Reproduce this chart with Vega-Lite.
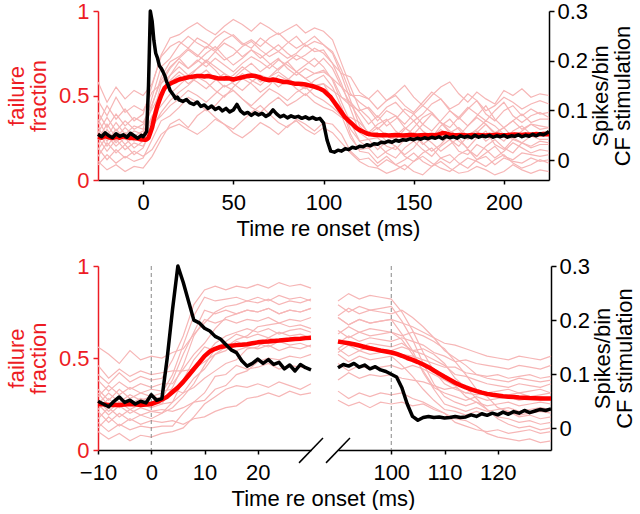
{
"$schema": "https://vega.github.io/schema/vega-lite/v6.json",
"padding": {"left": 5, "top": 0, "right": 0, "bottom": 0},
"config": {"font": "Liberation Sans", "view": {"stroke": null},
  "axis": {"grid": false, "labelFontSize": 22, "titleFontSize": 22, "titleFontWeight": "normal", "labelFont": "Liberation Sans", "titleFont": "Liberation Sans", "domainWidth": 1.5, "tickWidth": 1.5, "labelFlush": false, "labelOverlap": false}},
"datasets": {
"topPink": [
{"t":-25,"a":0.11,"b":0.09,"c":0.19,"d":0.14,"e":0.25,"f":0.18,"g":0.29,"h":0.21,"i":0.31,"j":0.24,"k":0.36,"l":0.28,"m":0.40,"n":0.33,"o":0.47,"p":0.58},
{"t":-20,"a":0.06,"b":0.15,"c":0.12,"d":0.22,"e":0.17,"f":0.26,"g":0.20,"h":0.30,"i":0.23,"j":0.33,"k":0.26,"l":0.37,"m":0.31,"n":0.44,"o":0.38,"p":0.46},
{"t":-15,"a":0.09,"b":0.10,"c":0.18,"d":0.16,"e":0.24,"f":0.20,"g":0.27,"h":0.22,"i":0.30,"j":0.25,"k":0.34,"l":0.29,"m":0.39,"n":0.36,"o":0.49,"p":0.55},
{"t":-10,"a":0.05,"b":0.14,"c":0.13,"d":0.21,"e":0.18,"f":0.25,"g":0.21,"h":0.28,"i":0.24,"j":0.31,"k":0.27,"l":0.35,"m":0.32,"n":0.42,"o":0.40,"p":0.48},
{"t":-5,"a":0.08,"b":0.11,"c":0.17,"d":0.15,"e":0.22,"f":0.19,"g":0.26,"h":0.23,"i":0.29,"j":0.26,"k":0.32,"l":0.30,"m":0.37,"n":0.35,"o":0.44,"p":0.53},
{"t":0,"a":0.07,"b":0.13,"c":0.14,"d":0.19,"e":0.20,"f":0.23,"g":0.23,"h":0.26,"i":0.27,"j":0.29,"k":0.30,"l":0.33,"m":0.34,"n":0.39,"o":0.41,"p":0.50},
{"t":5,"a":0.14,"b":0.24,"c":0.18,"d":0.31,"e":0.30,"f":0.33,"g":0.36,"h":0.38,"i":0.44,"j":0.36,"k":0.49,"l":0.42,"m":0.45,"n":0.56,"o":0.52,"p":0.57},
{"t":10,"a":0.24,"b":0.35,"c":0.27,"d":0.40,"e":0.50,"f":0.38,"g":0.57,"h":0.44,"i":0.61,"j":0.50,"k":0.67,"l":0.52,"m":0.59,"n":0.74,"o":0.57,"p":0.73},
{"t":15,"a":0.33,"b":0.38,"c":0.31,"d":0.47,"e":0.59,"f":0.44,"g":0.66,"h":0.51,"i":0.70,"j":0.62,"k":0.72,"l":0.58,"m":0.67,"n":0.84,"o":0.62,"p":0.79},
{"t":20,"a":0.36,"b":0.43,"c":0.33,"d":0.52,"e":0.64,"f":0.48,"g":0.72,"h":0.56,"i":0.73,"j":0.67,"k":0.80,"l":0.62,"m":0.72,"n":0.86,"o":0.70,"p":0.82},
{"t":25,"a":0.31,"b":0.49,"c":0.30,"d":0.56,"e":0.60,"f":0.53,"g":0.66,"h":0.61,"i":0.78,"j":0.62,"k":0.85,"l":0.57,"m":0.77,"n":0.90,"o":0.66,"p":0.78},
{"t":30,"a":0.38,"b":0.46,"c":0.27,"d":0.61,"e":0.66,"f":0.50,"g":0.70,"h":0.58,"i":0.74,"j":0.66,"k":0.81,"l":0.61,"m":0.73,"n":0.93,"o":0.71,"p":0.84},
{"t":35,"a":0.42,"b":0.41,"c":0.31,"d":0.58,"e":0.70,"f":0.46,"g":0.75,"h":0.54,"i":0.70,"j":0.71,"k":0.78,"l":0.65,"m":0.79,"n":0.89,"o":0.67,"p":0.81},
{"t":40,"a":0.37,"b":0.44,"c":0.36,"d":0.53,"e":0.65,"f":0.51,"g":0.79,"h":0.59,"i":0.76,"j":0.67,"k":0.84,"l":0.60,"m":0.76,"n":0.86,"o":0.72,"p":0.77},
{"t":45,"a":0.33,"b":0.50,"c":0.33,"d":0.49,"e":0.59,"f":0.56,"g":0.73,"h":0.63,"i":0.81,"j":0.63,"k":0.88,"l":0.55,"m":0.71,"n":0.91,"o":0.68,"p":0.83},
{"t":50,"a":0.30,"b":0.53,"c":0.28,"d":0.55,"e":0.62,"f":0.53,"g":0.68,"h":0.57,"i":0.78,"j":0.60,"k":0.85,"l":0.58,"m":0.74,"n":0.95,"o":0.64,"p":0.86},
{"t":55,"a":0.35,"b":0.48,"c":0.25,"d":0.60,"e":0.67,"f":0.48,"g":0.72,"h":0.53,"i":0.73,"j":0.65,"k":0.80,"l":0.63,"m":0.79,"n":0.92,"o":0.69,"p":0.81},
{"t":60,"a":0.40,"b":0.43,"c":0.29,"d":0.57,"e":0.63,"f":0.44,"g":0.77,"h":0.58,"i":0.77,"j":0.69,"k":0.83,"l":0.59,"m":0.82,"n":0.88,"o":0.73,"p":0.78},
{"t":65,"a":0.44,"b":0.40,"c":0.34,"d":0.52,"e":0.58,"f":0.49,"g":0.74,"h":0.62,"i":0.72,"j":0.64,"k":0.79,"l":0.56,"m":0.77,"n":0.93,"o":0.70,"p":0.84},
{"t":70,"a":0.39,"b":0.45,"c":0.31,"d":0.56,"e":0.61,"f":0.54,"g":0.69,"h":0.60,"i":0.76,"j":0.68,"k":0.84,"l":0.61,"m":0.73,"n":0.90,"o":0.66,"p":0.80},
{"t":75,"a":0.34,"b":0.49,"c":0.27,"d":0.62,"e":0.66,"f":0.51,"g":0.65,"h":0.55,"i":0.80,"j":0.72,"k":0.87,"l":0.64,"m":0.76,"n":0.86,"o":0.71,"p":0.76},
{"t":80,"a":0.31,"b":0.44,"c":0.32,"d":0.59,"e":0.70,"f":0.47,"g":0.70,"h":0.59,"i":0.75,"j":0.66,"k":0.82,"l":0.60,"m":0.72,"n":0.89,"o":0.68,"p":0.81},
{"t":85,"a":0.36,"b":0.47,"c":0.35,"d":0.54,"e":0.64,"f":0.52,"g":0.74,"h":0.64,"i":0.71,"j":0.62,"k":0.78,"l":0.57,"m":0.75,"n":0.92,"o":0.64,"p":0.85},
{"t":90,"a":0.33,"b":0.51,"c":0.30,"d":0.50,"e":0.60,"f":0.55,"g":0.71,"h":0.60,"i":0.74,"j":0.66,"k":0.81,"l":0.54,"m":0.80,"n":0.87,"o":0.68,"p":0.79},
{"t":95,"a":0.29,"b":0.46,"c":0.27,"d":0.55,"e":0.63,"f":0.50,"g":0.67,"h":0.56,"i":0.78,"j":0.63,"k":0.85,"l":0.59,"m":0.76,"n":0.90,"o":0.72,"p":0.82},
{"t":100,"a":0.34,"b":0.43,"c":0.31,"d":0.57,"e":0.65,"f":0.47,"g":0.72,"h":0.57,"i":0.75,"j":0.64,"k":0.80,"l":0.62,"m":0.77,"n":0.88,"o":0.67,"p":0.80},
{"t":105,"a":0.33,"b":0.41,"c":0.28,"d":0.48,"e":0.60,"f":0.43,"g":0.66,"h":0.53,"i":0.69,"j":0.60,"k":0.75,"l":0.55,"m":0.69,"n":0.83,"o":0.59,"p":0.76},
{"t":110,"a":0.27,"b":0.37,"c":0.22,"d":0.43,"e":0.49,"f":0.38,"g":0.55,"h":0.49,"i":0.57,"j":0.55,"k":0.62,"l":0.43,"m":0.63,"n":0.69,"o":0.46,"p":0.65},
{"t":115,"a":0.17,"b":0.37,"c":0.16,"d":0.30,"e":0.46,"f":0.25,"g":0.45,"h":0.44,"i":0.42,"j":0.50,"k":0.47,"l":0.27,"m":0.61,"n":0.55,"o":0.34,"p":0.51},
{"t":120,"a":0.12,"b":0.34,"c":0.11,"d":0.23,"e":0.40,"f":0.18,"g":0.36,"h":0.41,"i":0.28,"j":0.50,"k":0.32,"l":0.17,"m":0.52,"n":0.42,"o":0.23,"p":0.46},
{"t":125,"a":0.13,"b":0.28,"c":0.08,"d":0.24,"e":0.33,"f":0.19,"g":0.27,"h":0.43,"i":0.24,"j":0.48,"k":0.26,"l":0.16,"m":0.48,"n":0.37,"o":0.19,"p":0.42},
{"t":130,"a":0.08,"b":0.33,"c":0.07,"d":0.18,"e":0.38,"f":0.13,"g":0.31,"h":0.37,"i":0.25,"j":0.42,"k":0.28,"l":0.10,"m":0.53,"n":0.30,"o":0.21,"p":0.35},
{"t":135,"a":0.12,"b":0.36,"c":0.04,"d":0.23,"e":0.32,"f":0.17,"g":0.26,"h":0.43,"i":0.20,"j":0.47,"k":0.23,"l":0.14,"m":0.47,"n":0.35,"o":0.16,"p":0.41},
{"t":140,"a":0.09,"b":0.29,"c":0.06,"d":0.20,"e":0.36,"f":0.20,"g":0.24,"h":0.46,"i":0.18,"j":0.50,"k":0.26,"l":0.09,"m":0.51,"n":0.38,"o":0.13,"p":0.38},
{"t":145,"a":0.06,"b":0.25,"c":0.09,"d":0.15,"e":0.42,"f":0.14,"g":0.30,"h":0.40,"i":0.24,"j":0.44,"k":0.31,"l":0.12,"m":0.56,"n":0.31,"o":0.19,"p":0.33},
{"t":150,"a":0.11,"b":0.31,"c":0.05,"d":0.19,"e":0.39,"f":0.11,"g":0.35,"h":0.35,"i":0.28,"j":0.40,"k":0.27,"l":0.16,"m":0.49,"n":0.27,"o":0.23,"p":0.39},
{"t":155,"a":0.14,"b":0.37,"c":0.03,"d":0.26,"e":0.33,"f":0.16,"g":0.29,"h":0.39,"i":0.22,"j":0.46,"k":0.21,"l":0.11,"m":0.44,"n":0.33,"o":0.18,"p":0.44},
{"t":160,"a":0.10,"b":0.40,"c":0.08,"d":0.22,"e":0.29,"f":0.19,"g":0.25,"h":0.45,"i":0.17,"j":0.52,"k":0.25,"l":0.08,"m":0.50,"n":0.39,"o":0.14,"p":0.40},
{"t":165,"a":0.07,"b":0.34,"c":0.11,"d":0.17,"e":0.35,"f":0.13,"g":0.32,"h":0.48,"i":0.21,"j":0.48,"k":0.30,"l":0.13,"m":0.55,"n":0.34,"o":0.20,"p":0.34},
{"t":170,"a":0.05,"b":0.28,"c":0.07,"d":0.21,"e":0.41,"f":0.10,"g":0.36,"h":0.41,"i":0.27,"j":0.42,"k":0.24,"l":0.15,"m":0.58,"n":0.29,"o":0.24,"p":0.31},
{"t":175,"a":0.09,"b":0.31,"c":0.04,"d":0.25,"e":0.37,"f":0.15,"g":0.30,"h":0.36,"i":0.23,"j":0.45,"k":0.20,"l":0.10,"m":0.51,"n":0.26,"o":0.17,"p":0.37},
{"t":180,"a":0.13,"b":0.26,"c":0.05,"d":0.18,"e":0.32,"f":0.18,"g":0.24,"h":0.42,"i":0.19,"j":0.51,"k":0.26,"l":0.07,"m":0.46,"n":0.32,"o":0.15,"p":0.43},
{"t":185,"a":0.11,"b":0.30,"c":0.08,"d":0.14,"e":0.38,"f":0.12,"g":0.28,"h":0.47,"i":0.25,"j":0.47,"k":0.29,"l":0.12,"m":0.52,"n":0.37,"o":0.21,"p":0.39},
{"t":190,"a":0.08,"b":0.35,"c":0.06,"d":0.20,"e":0.44,"f":0.16,"g":0.33,"h":0.39,"i":0.29,"j":0.41,"k":0.23,"l":0.14,"m":0.48,"n":0.33,"o":0.18,"p":0.35},
{"t":195,"a":0.12,"b":0.32,"c":0.03,"d":0.24,"e":0.36,"f":0.20,"g":0.27,"h":0.35,"i":0.21,"j":0.44,"k":0.27,"l":0.09,"m":0.45,"n":0.28,"o":0.13,"p":0.41},
{"t":200,"a":0.15,"b":0.27,"c":0.05,"d":0.19,"e":0.31,"f":0.14,"g":0.23,"h":0.41,"i":0.18,"j":0.49,"k":0.31,"l":0.13,"m":0.53,"n":0.31,"o":0.17,"p":0.46},
{"t":205,"a":0.10,"b":0.24,"c":0.09,"d":0.16,"e":0.35,"f":0.12,"g":0.29,"h":0.44,"i":0.24,"j":0.46,"k":0.25,"l":0.11,"m":0.50,"n":0.35,"o":0.22,"p":0.38},
{"t":210,"a":0.07,"b":0.29,"c":0.06,"d":0.22,"e":0.39,"f":0.16,"g":0.32,"h":0.38,"i":0.22,"j":0.42,"k":0.22,"l":0.10,"m":0.54,"n":0.30,"o":0.19,"p":0.34},
{"t":215,"a":0.09,"b":0.33,"c":0.04,"d":0.19,"e":0.34,"f":0.15,"g":0.27,"h":0.42,"i":0.20,"j":0.45,"k":0.26,"l":0.13,"m":0.49,"n":0.33,"o":0.16,"p":0.38},
{"t":220,"a":0.12,"b":0.30,"c":0.06,"d":0.21,"e":0.36,"f":0.14,"g":0.28,"h":0.39,"i":0.23,"j":0.47,"k":0.24,"l":0.11,"m":0.51,"n":0.32,"o":0.18,"p":0.40},
{"t":225,"a":0.10,"b":0.31,"c":0.05,"d":0.21,"e":0.36,"f":0.15,"g":0.29,"h":0.40,"i":0.22,"j":0.45,"k":0.24,"l":0.12,"m":0.50,"n":0.31,"o":0.17,"p":0.37}
],
"topMS": [
{"t":-25,"s":0.052,"v":0.255},{"t":-23,"s":0.047,"v":0.25},{"t":-21,"s":0.055,"v":0.26},{"t":-19,"s":0.049,"v":0.252},{"t":-17,"s":0.045,"v":0.248},{"t":-15,"s":0.053,"v":0.255},{"t":-13,"s":0.048,"v":0.25},{"t":-11,"s":0.051,"v":0.258},{"t":-9,"s":0.046,"v":0.252},{"t":-7,"s":0.054,"v":0.248},{"t":-5,"s":0.049,"v":0.25},{"t":-3,"s":0.044,"v":0.245},{"t":-1,"s":0.05,"v":0.24},
{"t":0,"s":0.047,"v":0.24},{"t":1,"s":0.052,"v":0.238},{"t":2,"s":0.058,"v":0.24},{"t":3,"s":0.15,"v":0.25},{"t":4,"s":0.30,"v":0.28},{"t":5,"s":0.28,"v":0.31},{"t":6,"s":0.24,"v":0.36},{"t":7,"s":0.215,"v":0.40},{"t":8,"s":0.205,"v":0.44},{"t":9,"s":0.19,"v":0.47},{"t":10,"s":0.185,"v":0.50},{"t":11,"s":0.178,"v":0.525},{"t":12,"s":0.17,"v":0.545},{"t":13,"s":0.158,"v":0.555},{"t":14,"s":0.15,"v":0.565},{"t":15,"s":0.14,"v":0.57},{"t":16,"s":0.135,"v":0.575},{"t":17,"s":0.13,"v":0.58},{"t":18,"s":0.124,"v":0.585},{"t":19,"s":0.127,"v":0.59},{"t":20,"s":0.121,"v":0.595},
{"t":22,"s":0.118,"v":0.60},{"t":24,"s":0.122,"v":0.605},{"t":26,"s":0.115,"v":0.61},{"t":28,"s":0.112,"v":0.612},{"t":30,"s":0.117,"v":0.615},{"t":32,"s":0.108,"v":0.615},{"t":34,"s":0.111,"v":0.613},{"t":36,"s":0.104,"v":0.615},{"t":38,"s":0.109,"v":0.61},{"t":40,"s":0.102,"v":0.605},{"t":42,"s":0.106,"v":0.60},{"t":44,"s":0.099,"v":0.60},{"t":46,"s":0.104,"v":0.602},{"t":48,"s":0.097,"v":0.60},{"t":50,"s":0.101,"v":0.595},{"t":52,"s":0.112,"v":0.60},{"t":54,"s":0.099,"v":0.605},{"t":56,"s":0.093,"v":0.61},{"t":58,"s":0.096,"v":0.615},{"t":60,"s":0.09,"v":0.618},{"t":62,"s":0.095,"v":0.615},{"t":64,"s":0.091,"v":0.61},{"t":66,"s":0.094,"v":0.60},{"t":68,"s":0.088,"v":0.595},{"t":70,"s":0.092,"v":0.59},{"t":72,"s":0.101,"v":0.595},{"t":74,"s":0.093,"v":0.59},{"t":76,"s":0.087,"v":0.585},{"t":78,"s":0.09,"v":0.58},{"t":80,"s":0.085,"v":0.58},{"t":82,"s":0.089,"v":0.575},{"t":84,"s":0.086,"v":0.57},{"t":86,"s":0.088,"v":0.57},{"t":88,"s":0.084,"v":0.568},{"t":90,"s":0.087,"v":0.565},{"t":92,"s":0.083,"v":0.56},{"t":94,"s":0.086,"v":0.555},{"t":96,"s":0.082,"v":0.548},{"t":98,"s":0.084,"v":0.54},{"t":100,"s":0.075,"v":0.53},{"t":102,"s":0.04,"v":0.51},{"t":104,"s":0.018,"v":0.49},{"t":106,"s":0.016,"v":0.46},{"t":108,"s":0.02,"v":0.43},{"t":110,"s":0.018,"v":0.40},{"t":112,"s":0.023,"v":0.37},{"t":114,"s":0.021,"v":0.35},{"t":116,"s":0.026,"v":0.33},{"t":118,"s":0.024,"v":0.31},{"t":120,"s":0.028,"v":0.295},{"t":122,"s":0.027,"v":0.285},{"t":124,"s":0.031,"v":0.275},{"t":126,"s":0.029,"v":0.27},{"t":128,"s":0.033,"v":0.268},{"t":130,"s":0.032,"v":0.266},{"t":132,"s":0.036,"v":0.265},{"t":134,"s":0.035,"v":0.266},{"t":136,"s":0.038,"v":0.264},{"t":138,"s":0.036,"v":0.265},{"t":140,"s":0.04,"v":0.266},{"t":142,"s":0.038,"v":0.265},{"t":144,"s":0.041,"v":0.264},{"t":146,"s":0.04,"v":0.265},{"t":148,"s":0.043,"v":0.266},{"t":150,"s":0.041,"v":0.265},{"t":152,"s":0.044,"v":0.264},{"t":154,"s":0.042,"v":0.265},{"t":156,"s":0.045,"v":0.266},{"t":158,"s":0.043,"v":0.265},{"t":160,"s":0.046,"v":0.266},{"t":162,"s":0.044,"v":0.265},{"t":164,"s":0.047,"v":0.27},{"t":166,"s":0.043,"v":0.278},{"t":168,"s":0.048,"v":0.275},{"t":170,"s":0.045,"v":0.268},{"t":172,"s":0.047,"v":0.266},{"t":174,"s":0.044,"v":0.265},{"t":176,"s":0.049,"v":0.266},{"t":178,"s":0.046,"v":0.265},{"t":180,"s":0.048,"v":0.264},{"t":182,"s":0.045,"v":0.266},{"t":184,"s":0.05,"v":0.265},{"t":186,"s":0.046,"v":0.266},{"t":188,"s":0.049,"v":0.265},{"t":190,"s":0.047,"v":0.264},{"t":192,"s":0.05,"v":0.266},{"t":194,"s":0.046,"v":0.265},{"t":196,"s":0.049,"v":0.268},{"t":198,"s":0.047,"v":0.266},{"t":200,"s":0.05,"v":0.265},{"t":202,"s":0.046,"v":0.266},{"t":204,"s":0.049,"v":0.268},{"t":206,"s":0.048,"v":0.27},{"t":208,"s":0.051,"v":0.268},{"t":210,"s":0.047,"v":0.266},{"t":212,"s":0.05,"v":0.27},{"t":214,"s":0.048,"v":0.268},{"t":216,"s":0.052,"v":0.27},{"t":218,"s":0.049,"v":0.272},{"t":220,"s":0.053,"v":0.27},{"t":222,"s":0.051,"v":0.272},{"t":224,"s":0.055,"v":0.27},{"t":225,"s":0.058,"v":0.27}
],
"botLPink": [
{"t":-10,"a":0.10,"b":0.15,"c":0.12,"d":0.21,"e":0.17,"f":0.25,"g":0.27,"h":0.22,"i":0.31,"j":0.25,"k":0.33,"l":0.29,"m":0.38,"n":0.41,"o":0.46,"p":0.56},
{"t":-8,"a":0.06,"b":0.10,"c":0.18,"d":0.15,"e":0.23,"f":0.19,"g":0.21,"h":0.28,"i":0.24,"j":0.31,"k":0.27,"l":0.35,"m":0.32,"n":0.36,"o":0.39,"p":0.52},
{"t":-6,"a":0.09,"b":0.14,"c":0.13,"d":0.20,"e":0.18,"f":0.24,"g":0.26,"h":0.23,"i":0.29,"j":0.26,"k":0.33,"l":0.30,"m":0.37,"n":0.42,"o":0.44,"p":0.47},
{"t":-4,"a":0.05,"b":0.11,"c":0.17,"d":0.16,"e":0.22,"f":0.20,"g":0.22,"h":0.27,"i":0.25,"j":0.30,"k":0.28,"l":0.34,"m":0.33,"n":0.37,"o":0.40,"p":0.54},
{"t":-2,"a":0.08,"b":0.13,"c":0.14,"d":0.19,"e":0.19,"f":0.23,"g":0.25,"h":0.24,"i":0.28,"j":0.27,"k":0.31,"l":0.31,"m":0.36,"n":0.40,"o":0.43,"p":0.49},
{"t":0,"a":0.07,"b":0.12,"c":0.16,"d":0.17,"e":0.21,"f":0.21,"g":0.23,"h":0.26,"i":0.26,"j":0.29,"k":0.29,"l":0.33,"m":0.34,"n":0.38,"o":0.41,"p":0.51},
{"t":2,"a":0.09,"b":0.13,"c":0.15,"d":0.20,"e":0.20,"f":0.22,"g":0.25,"h":0.25,"i":0.28,"j":0.28,"k":0.31,"l":0.32,"m":0.36,"n":0.39,"o":0.42,"p":0.50},
{"t":4,"a":0.10,"b":0.13,"c":0.16,"d":0.26,"e":0.23,"f":0.21,"g":0.34,"h":0.26,"i":0.38,"j":0.31,"k":0.41,"l":0.33,"m":0.36,"n":0.49,"o":0.43,"p":0.53},
{"t":6,"a":0.12,"b":0.20,"c":0.14,"d":0.38,"e":0.29,"f":0.23,"g":0.46,"h":0.31,"i":0.52,"j":0.36,"k":0.57,"l":0.31,"m":0.44,"n":0.62,"o":0.43,"p":0.55},
{"t":8,"a":0.18,"b":0.26,"c":0.17,"d":0.49,"e":0.36,"f":0.26,"g":0.62,"h":0.39,"i":0.64,"j":0.44,"k":0.73,"l":0.34,"m":0.52,"n":0.79,"o":0.44,"p":0.63},
{"t":10,"a":0.25,"b":0.31,"c":0.18,"d":0.56,"e":0.46,"f":0.27,"g":0.71,"h":0.44,"i":0.76,"j":0.51,"k":0.83,"l":0.39,"m":0.58,"n":0.87,"o":0.48,"p":0.69},
{"t":12,"a":0.29,"b":0.40,"c":0.21,"d":0.54,"e":0.55,"f":0.33,"g":0.69,"h":0.52,"i":0.74,"j":0.58,"k":0.81,"l":0.43,"m":0.66,"n":0.89,"o":0.52,"p":0.75},
{"t":14,"a":0.33,"b":0.41,"c":0.23,"d":0.56,"e":0.59,"f":0.35,"g":0.71,"h":0.54,"i":0.76,"j":0.62,"k":0.82,"l":0.47,"m":0.72,"n":0.87,"o":0.56,"p":0.78},
{"t":16,"a":0.35,"b":0.46,"c":0.24,"d":0.54,"e":0.63,"f":0.41,"g":0.69,"h":0.59,"i":0.74,"j":0.64,"k":0.83,"l":0.49,"m":0.74,"n":0.89,"o":0.60,"p":0.79},
{"t":18,"a":0.34,"b":0.44,"c":0.28,"d":0.56,"e":0.61,"f":0.43,"g":0.71,"h":0.57,"i":0.76,"j":0.66,"k":0.81,"l":0.55,"m":0.76,"n":0.88,"o":0.62,"p":0.81},
{"t":20,"a":0.36,"b":0.45,"c":0.29,"d":0.55,"e":0.63,"f":0.48,"g":0.70,"h":0.58,"i":0.75,"j":0.64,"k":0.83,"l":0.56,"m":0.75,"n":0.90,"o":0.67,"p":0.80},
{"t":22,"a":0.34,"b":0.47,"c":0.31,"d":0.57,"e":0.61,"f":0.50,"g":0.72,"h":0.56,"i":0.77,"j":0.66,"k":0.81,"l":0.61,"m":0.77,"n":0.88,"o":0.68,"p":0.82},
{"t":24,"a":0.37,"b":0.44,"c":0.29,"d":0.54,"e":0.64,"f":0.49,"g":0.69,"h":0.59,"i":0.74,"j":0.63,"k":0.84,"l":0.59,"m":0.74,"n":0.91,"o":0.69,"p":0.79},
{"t":26,"a":0.35,"b":0.46,"c":0.32,"d":0.56,"e":0.62,"f":0.51,"g":0.71,"h":0.57,"i":0.76,"j":0.65,"k":0.82,"l":0.61,"m":0.76,"n":0.89,"o":0.67,"p":0.81},
{"t":28,"a":0.33,"b":0.45,"c":0.30,"d":0.55,"e":0.63,"f":0.50,"g":0.70,"h":0.58,"i":0.75,"j":0.66,"k":0.83,"l":0.60,"m":0.75,"n":0.90,"o":0.68,"p":0.80},
{"t":30,"a":0.36,"b":0.44,"c":0.31,"d":0.57,"e":0.61,"f":0.52,"g":0.72,"h":0.56,"i":0.77,"j":0.64,"k":0.81,"l":0.62,"m":0.77,"n":0.88,"o":0.66,"p":0.82}
],
"botRPink": [
{"t":90,"a":0.32,"b":0.38,"c":0.27,"d":0.52,"e":0.55,"f":0.47,"g":0.63,"h":0.55,"i":0.72,"j":0.58,"k":0.79,"l":0.53,"m":0.72,"n":0.81,"o":0.65,"p":0.73},
{"t":92,"a":0.28,"b":0.42,"c":0.24,"d":0.48,"e":0.59,"f":0.43,"g":0.67,"h":0.51,"i":0.68,"j":0.62,"k":0.75,"l":0.57,"m":0.68,"n":0.85,"o":0.61,"p":0.77},
{"t":94,"a":0.31,"b":0.39,"c":0.26,"d":0.51,"e":0.56,"f":0.46,"g":0.64,"h":0.54,"i":0.71,"j":0.59,"k":0.78,"l":0.54,"m":0.71,"n":0.82,"o":0.64,"p":0.74},
{"t":96,"a":0.29,"b":0.41,"c":0.23,"d":0.49,"e":0.58,"f":0.44,"g":0.66,"h":0.52,"i":0.69,"j":0.61,"k":0.76,"l":0.56,"m":0.69,"n":0.84,"o":0.62,"p":0.76},
{"t":98,"a":0.31,"b":0.40,"c":0.26,"d":0.50,"e":0.57,"f":0.45,"g":0.65,"h":0.53,"i":0.70,"j":0.60,"k":0.77,"l":0.55,"m":0.70,"n":0.83,"o":0.63,"p":0.75},
{"t":100,"a":0.30,"b":0.41,"c":0.25,"d":0.51,"e":0.56,"f":0.46,"g":0.64,"h":0.54,"i":0.71,"j":0.59,"k":0.78,"l":0.54,"m":0.71,"n":0.82,"o":0.64,"p":0.74},
{"t":102,"a":0.31,"b":0.39,"c":0.26,"d":0.46,"e":0.58,"f":0.44,"g":0.60,"h":0.52,"i":0.63,"j":0.61,"k":0.70,"l":0.56,"m":0.69,"n":0.75,"o":0.62,"p":0.76},
{"t":104,"a":0.28,"b":0.38,"c":0.24,"d":0.40,"e":0.54,"f":0.46,"g":0.52,"h":0.51,"i":0.54,"j":0.59,"k":0.60,"l":0.54,"m":0.67,"n":0.65,"o":0.64,"p":0.72},
{"t":106,"a":0.26,"b":0.37,"c":0.25,"d":0.33,"e":0.52,"f":0.44,"g":0.43,"h":0.49,"i":0.42,"j":0.57,"k":0.47,"l":0.55,"m":0.64,"n":0.53,"o":0.62,"p":0.67},
{"t":108,"a":0.23,"b":0.35,"c":0.22,"d":0.27,"e":0.49,"f":0.41,"g":0.34,"h":0.47,"i":0.33,"j":0.53,"k":0.36,"l":0.52,"m":0.61,"n":0.43,"o":0.59,"p":0.61},
{"t":110,"a":0.20,"b":0.33,"c":0.20,"d":0.22,"e":0.46,"f":0.38,"g":0.31,"h":0.45,"i":0.25,"j":0.51,"k":0.29,"l":0.47,"m":0.58,"n":0.36,"o":0.55,"p":0.54},
{"t":112,"a":0.15,"b":0.34,"c":0.17,"d":0.21,"e":0.41,"f":0.35,"g":0.29,"h":0.45,"i":0.23,"j":0.48,"k":0.26,"l":0.39,"m":0.57,"n":0.33,"o":0.48,"p":0.50},
{"t":114,"a":0.13,"b":0.31,"c":0.16,"d":0.19,"e":0.40,"f":0.29,"g":0.27,"h":0.42,"i":0.21,"j":0.49,"k":0.24,"l":0.34,"m":0.55,"n":0.31,"o":0.41,"p":0.46},
{"t":116,"a":0.11,"b":0.30,"c":0.13,"d":0.21,"e":0.38,"f":0.26,"g":0.29,"h":0.41,"i":0.23,"j":0.47,"k":0.26,"l":0.28,"m":0.53,"n":0.33,"o":0.33,"p":0.41},
{"t":118,"a":0.10,"b":0.31,"c":0.09,"d":0.19,"e":0.36,"f":0.22,"g":0.27,"h":0.40,"i":0.21,"j":0.46,"k":0.24,"l":0.22,"m":0.51,"n":0.31,"o":0.29,"p":0.39},
{"t":120,"a":0.11,"b":0.29,"c":0.07,"d":0.20,"e":0.35,"f":0.18,"g":0.28,"h":0.41,"i":0.22,"j":0.45,"k":0.25,"l":0.17,"m":0.50,"n":0.32,"o":0.23,"p":0.38},
{"t":122,"a":0.09,"b":0.30,"c":0.06,"d":0.21,"e":0.34,"f":0.17,"g":0.29,"h":0.39,"i":0.23,"j":0.44,"k":0.26,"l":0.14,"m":0.49,"n":0.33,"o":0.21,"p":0.37},
{"t":124,"a":0.10,"b":0.31,"c":0.05,"d":0.19,"e":0.36,"f":0.15,"g":0.27,"h":0.40,"i":0.21,"j":0.46,"k":0.24,"l":0.12,"m":0.51,"n":0.31,"o":0.18,"p":0.39},
{"t":126,"a":0.11,"b":0.29,"c":0.06,"d":0.20,"e":0.35,"f":0.16,"g":0.28,"h":0.41,"i":0.22,"j":0.45,"k":0.25,"l":0.13,"m":0.50,"n":0.32,"o":0.19,"p":0.38},
{"t":128,"a":0.09,"b":0.30,"c":0.04,"d":0.21,"e":0.34,"f":0.14,"g":0.29,"h":0.39,"i":0.23,"j":0.44,"k":0.26,"l":0.11,"m":0.49,"n":0.33,"o":0.17,"p":0.37},
{"t":130,"a":0.10,"b":0.31,"c":0.05,"d":0.20,"e":0.36,"f":0.15,"g":0.28,"h":0.40,"i":0.22,"j":0.46,"k":0.25,"l":0.12,"m":0.51,"n":0.31,"o":0.18,"p":0.38}
],
"botLMS": [
{"t":-10,"s":0.05,"v":0.25},{"t":-9,"s":0.045,"v":0.248},{"t":-8,"s":0.04,"v":0.245},{"t":-7,"s":0.05,"v":0.246},{"t":-6,"s":0.058,"v":0.245},{"t":-5,"s":0.048,"v":0.247},{"t":-4,"s":0.052,"v":0.25},{"t":-3,"s":0.045,"v":0.248},{"t":-2,"s":0.05,"v":0.245},{"t":-1,"s":0.047,"v":0.247},{"t":0,"s":0.062,"v":0.25},{"t":1,"s":0.052,"v":0.26},{"t":2,"s":0.055,"v":0.275},{"t":3,"s":0.13,"v":0.29},{"t":4,"s":0.22,"v":0.315},{"t":5,"s":0.30,"v":0.34},{"t":6,"s":0.27,"v":0.37},{"t":7,"s":0.235,"v":0.405},{"t":8,"s":0.20,"v":0.44},{"t":9,"s":0.195,"v":0.475},{"t":10,"s":0.185,"v":0.51},{"t":11,"s":0.18,"v":0.535},{"t":12,"s":0.17,"v":0.55},{"t":13,"s":0.165,"v":0.56},{"t":14,"s":0.155,"v":0.565},{"t":15,"s":0.145,"v":0.567},{"t":16,"s":0.14,"v":0.57},{"t":17,"s":0.125,"v":0.572},{"t":18,"s":0.115,"v":0.575},{"t":19,"s":0.12,"v":0.58},{"t":20,"s":0.128,"v":0.585},{"t":21,"s":0.12,"v":0.588},{"t":22,"s":0.127,"v":0.59},{"t":23,"s":0.118,"v":0.593},{"t":24,"s":0.122,"v":0.595},{"t":25,"s":0.11,"v":0.598},{"t":26,"s":0.117,"v":0.60},{"t":27,"s":0.106,"v":0.603},{"t":28,"s":0.118,"v":0.605},{"t":29,"s":0.112,"v":0.608},{"t":30,"s":0.108,"v":0.61}
],
"botRMS": [
{"t":90,"s":0.112,"v":0.59},{"t":91,"s":0.118,"v":0.585},{"t":92,"s":0.115,"v":0.58},{"t":93,"s":0.12,"v":0.575},{"t":94,"s":0.113,"v":0.568},{"t":95,"s":0.117,"v":0.56},{"t":96,"s":0.11,"v":0.553},{"t":97,"s":0.114,"v":0.547},{"t":98,"s":0.108,"v":0.54},{"t":99,"s":0.105,"v":0.535},{"t":100,"s":0.1,"v":0.53},{"t":101,"s":0.095,"v":0.522},{"t":102,"s":0.075,"v":0.512},{"t":103,"s":0.045,"v":0.50},{"t":104,"s":0.022,"v":0.49},{"t":105,"s":0.015,"v":0.478},{"t":106,"s":0.02,"v":0.465},{"t":107,"s":0.022,"v":0.45},{"t":108,"s":0.02,"v":0.432},{"t":109,"s":0.021,"v":0.415},{"t":110,"s":0.019,"v":0.398},{"t":111,"s":0.02,"v":0.382},{"t":112,"s":0.022,"v":0.366},{"t":113,"s":0.02,"v":0.352},{"t":114,"s":0.021,"v":0.34},{"t":115,"s":0.025,"v":0.33},{"t":116,"s":0.022,"v":0.32},{"t":117,"s":0.027,"v":0.312},{"t":118,"s":0.024,"v":0.305},{"t":119,"s":0.028,"v":0.30},{"t":120,"s":0.025,"v":0.296},{"t":121,"s":0.03,"v":0.292},{"t":122,"s":0.026,"v":0.29},{"t":123,"s":0.031,"v":0.288},{"t":124,"s":0.028,"v":0.285},{"t":125,"s":0.033,"v":0.284},{"t":126,"s":0.029,"v":0.282},{"t":127,"s":0.032,"v":0.281},{"t":128,"s":0.035,"v":0.28},{"t":129,"s":0.033,"v":0.28},{"t":130,"s":0.036,"v":0.28}
]
},
"bounds": "flush",
"spacing": 86,
"vconcat": [
{
 "width": 451, "height": 169,
 "layer": [
  {"layer": [
   {"data": {"name": "topPink"},
    "transform": [{"fold": ["a","b","c","d","e","f","g","h","i","j","k","l","m","n","o","p"], "as": ["trace", "v"]}],
    "mark": {"type": "line", "color": "#f6b6b6", "strokeWidth": 1.2},
    "encoding": {
     "x": {"field": "t", "type": "quantitative", "scale": {"domain": [-25, 225], "nice": false, "zero": false},
       "axis": {"values": [0, 50, 100, 150, 200], "title": "Time re onset (ms)", "titleX": 230, "tickSize": 4, "labelPadding": 8, "titlePadding": 5, "domainColor": "black", "tickColor": "black", "labelColor": "black", "titleColor": "black"}},
     "y": {"field": "v", "type": "quantitative", "scale": {"domain": [0, 1], "nice": false},
       "axis": {"values": [0, 0.5, 1], "format": "~g", "title": ["failure", "fraction"], "titleColor": "#ed1c24", "labelColor": "#ed1c24", "domainColor": "#ed1c24", "tickColor": "#ed1c24", "tickSize": 5, "labelPadding": 4, "titlePadding": 8, "titleLineHeight": 22}},
     "detail": {"field": "trace", "type": "nominal"}
    }},
   {"data": {"name": "topMS"},
    "mark": {"type": "line", "color": "#ff0000", "strokeWidth": 4.5, "strokeJoin": "round"},
    "encoding": {"x": {"field": "t", "type": "quantitative"}, "y": {"field": "v", "type": "quantitative"}}}
  ]},
  {"data": {"name": "topMS"},
   "mark": {"type": "line", "color": "black", "strokeWidth": 3.5, "strokeJoin": "round"},
   "encoding": {"x": {"field": "t", "type": "quantitative"},
     "y": {"field": "s", "type": "quantitative", "scale": {"domain": [-0.04, 0.3], "nice": false, "zero": false},
       "axis": {"orient": "right", "values": [0, 0.1, 0.2, 0.3], "format": "~g", "title": ["Spikes/bin", "CF stimulation"], "titleAngle": 270, "titleColor": "black", "labelColor": "black", "domainColor": "black", "tickColor": "black", "tickSize": 5, "labelPadding": 3, "titlePadding": 3, "titleLineHeight": 22}}}}
 ],
 "resolve": {"scale": {"y": "independent"}}
},
{
 "bounds": "flush",
 "spacing": 27,
 "title": {"text": "Time re onset (ms)", "orient": "bottom", "anchor": "middle", "fontSize": 22, "fontWeight": "normal", "font": "Liberation Sans", "offset": 6, "dx": 3},
 "hconcat": [
  {
   "width": 213, "height": 184,
   "layer": [
    {"layer": [
     {"data": {"name": "botLPink"},
      "transform": [{"fold": ["a","b","c","d","e","f","g","h","i","j","k","l","m","n","o","p"], "as": ["trace", "v"]}],
      "mark": {"type": "line", "color": "#f6b6b6", "strokeWidth": 1.2},
      "encoding": {
       "x": {"field": "t", "type": "quantitative", "scale": {"domain": [-10, 30], "nice": false, "zero": false},
         "axis": {"values": [-10, 0, 10, 20], "title": null, "tickSize": 4, "labelPadding": 8, "domainColor": "black", "tickColor": "black", "labelColor": "black"}},
       "y": {"field": "v", "type": "quantitative", "scale": {"domain": [0, 1], "nice": false},
         "axis": {"values": [0, 0.5, 1], "format": "~g", "title": ["failure", "fraction"], "titleColor": "#ed1c24", "labelColor": "#ed1c24", "domainColor": "#ed1c24", "tickColor": "#ed1c24", "tickSize": 5, "labelPadding": 4, "titlePadding": 8, "titleLineHeight": 22}},
       "detail": {"field": "trace", "type": "nominal"}
      }},
     {"data": {"values": [{"t": 0}]},
      "mark": {"type": "rule", "color": "#888888", "strokeWidth": 1, "strokeDash": [4, 3]},
      "encoding": {"x": {"field": "t", "type": "quantitative"}}},
     {"data": {"name": "botLMS"},
      "mark": {"type": "line", "color": "#ff0000", "strokeWidth": 4.5, "strokeJoin": "round"},
      "encoding": {"x": {"field": "t", "type": "quantitative"}, "y": {"field": "v", "type": "quantitative"}}},
     {"data": {"values": [{"t": 27.75, "v": -0.07, "t2": 32.25, "v2": 0.065}]},
      "mark": {"type": "rule", "color": "black", "strokeWidth": 1.5, "clip": false},
      "encoding": {"x": {"field": "t", "type": "quantitative"}, "x2": {"field": "t2"}, "y": {"field": "v", "type": "quantitative"}, "y2": {"field": "v2"}}}
    ]},
    {"data": {"name": "botLMS"},
     "mark": {"type": "line", "color": "black", "strokeWidth": 3.5, "strokeJoin": "round"},
     "encoding": {"x": {"field": "t", "type": "quantitative"},
       "y": {"field": "s", "type": "quantitative", "scale": {"domain": [-0.04, 0.3], "nice": false, "zero": false}, "axis": null}}}
   ],
   "resolve": {"scale": {"y": "independent"}}
  },
  {
   "width": 213, "height": 184,
   "layer": [
    {"layer": [
     {"data": {"name": "botRPink"},
      "transform": [{"fold": ["a","b","c","d","e","f","g","h","i","j","k","l","m","n","o","p"], "as": ["trace", "v"]}],
      "mark": {"type": "line", "color": "#f6b6b6", "strokeWidth": 1.2},
      "encoding": {
       "x": {"field": "t", "type": "quantitative", "scale": {"domain": [90, 130], "nice": false, "zero": false},
         "axis": {"values": [100, 110, 120], "title": null, "tickSize": 4, "labelPadding": 8, "domainColor": "black", "tickColor": "black", "labelColor": "black"}},
       "y": {"field": "v", "type": "quantitative", "scale": {"domain": [0, 1], "nice": false}, "axis": null},
       "detail": {"field": "trace", "type": "nominal"}
      }},
     {"data": {"values": [{"t": 100}]},
      "mark": {"type": "rule", "color": "#888888", "strokeWidth": 1, "strokeDash": [4, 3]},
      "encoding": {"x": {"field": "t", "type": "quantitative"}}},
     {"data": {"name": "botRMS"},
      "mark": {"type": "line", "color": "#ff0000", "strokeWidth": 4.5, "strokeJoin": "round"},
      "encoding": {"x": {"field": "t", "type": "quantitative"}, "y": {"field": "v", "type": "quantitative"}}},
     {"data": {"values": [{"t": 87.75, "v": -0.07, "t2": 92.25, "v2": 0.065}]},
      "mark": {"type": "rule", "color": "black", "strokeWidth": 1.5, "clip": false},
      "encoding": {"x": {"field": "t", "type": "quantitative"}, "x2": {"field": "t2"}, "y": {"field": "v", "type": "quantitative"}, "y2": {"field": "v2"}}}
    ]},
    {"data": {"name": "botRMS"},
     "mark": {"type": "line", "color": "black", "strokeWidth": 3.5, "strokeJoin": "round"},
     "encoding": {"x": {"field": "t", "type": "quantitative"},
       "y": {"field": "s", "type": "quantitative", "scale": {"domain": [-0.04, 0.3], "nice": false, "zero": false},
         "axis": {"orient": "right", "values": [0, 0.1, 0.2, 0.3], "format": "~g", "title": ["Spikes/bin", "CF stimulation"], "titleAngle": 270, "titleColor": "black", "labelColor": "black", "domainColor": "black", "tickColor": "black", "tickSize": 5, "labelPadding": 3, "titlePadding": 3, "titleLineHeight": 22}}}}
   ],
   "resolve": {"scale": {"y": "independent"}}
  }
 ]
}
]
}
